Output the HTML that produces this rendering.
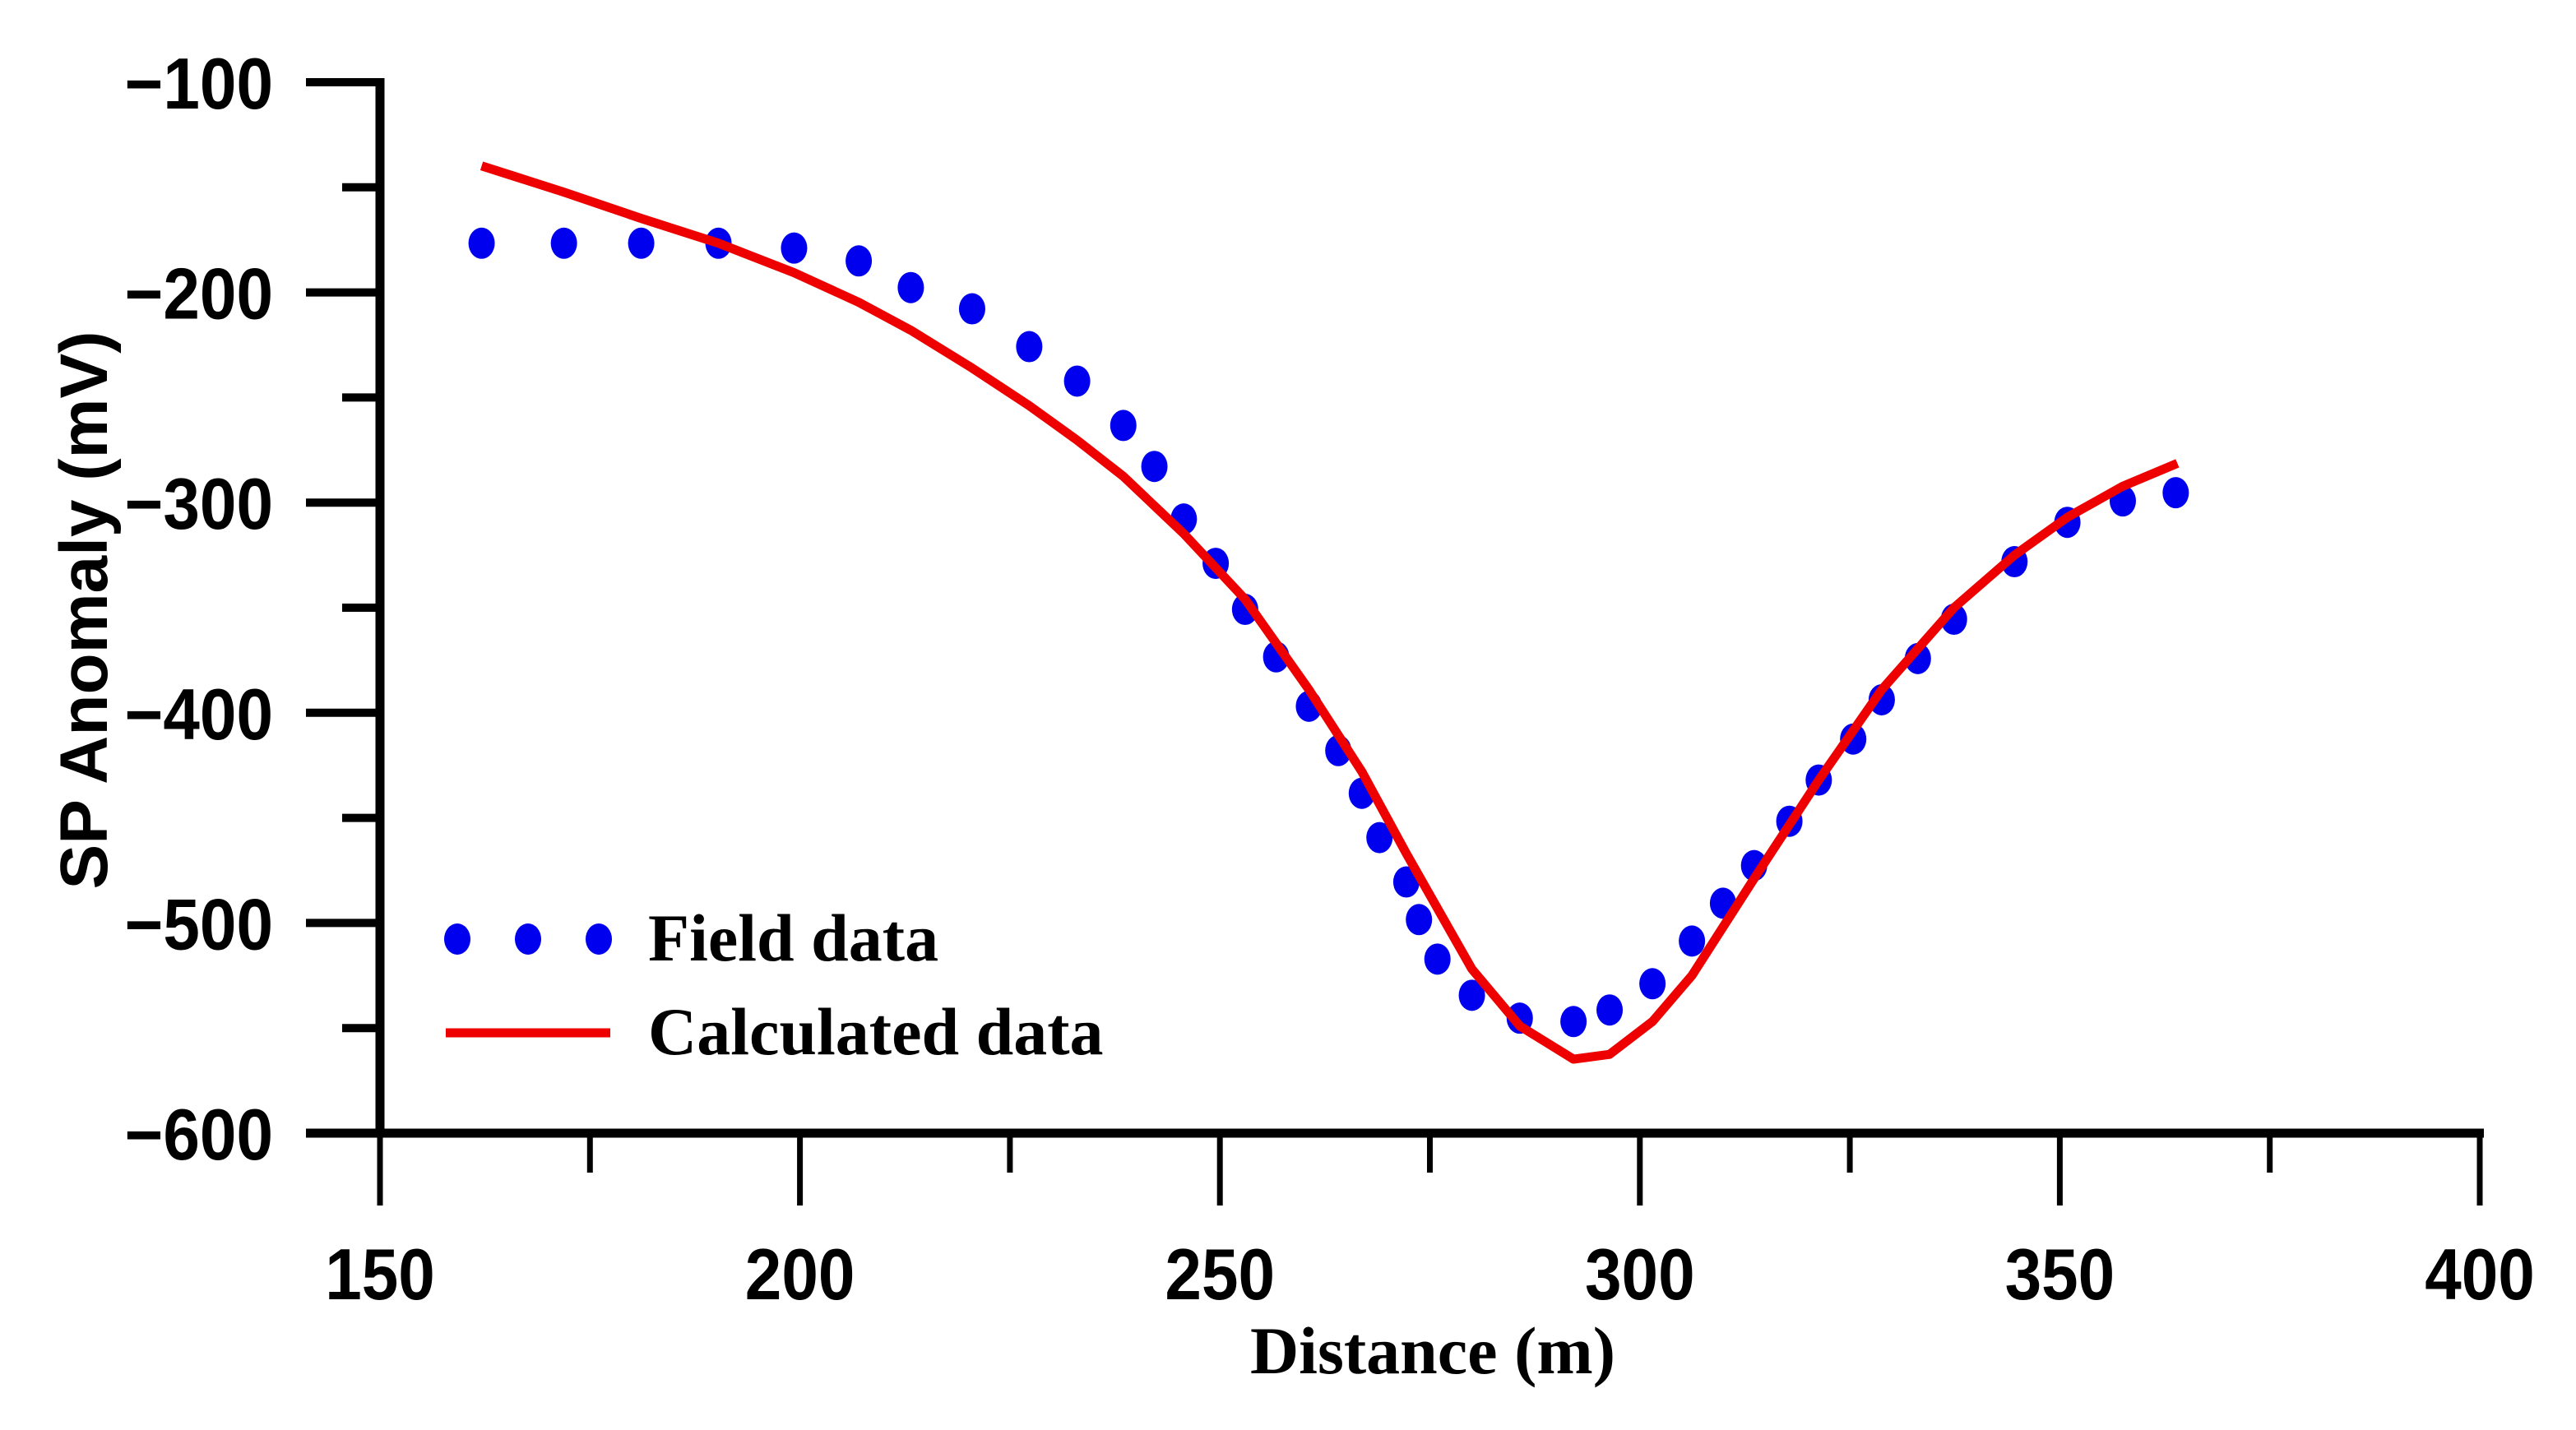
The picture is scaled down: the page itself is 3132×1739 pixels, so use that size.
<!DOCTYPE html>
<html><head><meta charset="utf-8"><style>
html,body{margin:0;padding:0;background:#fff;}
svg{display:block;}
</style></head><body>
<svg id="chart" width="3132" height="1739" viewBox="0 0 3132 1739" xmlns="http://www.w3.org/2000/svg">
<rect width="3132" height="1739" fill="#fff"/>
<g id="axes"></g>
<g id="series"></g>
<text x="1742" y="1670" text-anchor="middle" font-family="Liberation Serif, serif" font-weight="bold" font-size="82">Distance (m)</text>
<text transform="translate(130,742) rotate(-90)" text-anchor="middle" font-family="Liberation Sans, sans-serif" font-weight="bold" font-size="82">SP Anomaly (mV)</text>
<g>
  <ellipse cx="556" cy="1142" rx="16" ry="19" fill="#0000ee"/>
  <ellipse cx="642" cy="1142" rx="16" ry="19" fill="#0000ee"/>
  <ellipse cx="728" cy="1142" rx="16" ry="19" fill="#0000ee"/>
  <text x="788" y="1168" font-family="Liberation Serif, serif" font-weight="bold" font-size="82">Field data</text>
  <line x1="542" y1="1256" x2="742" y2="1256" stroke="#ee0000" stroke-width="11"/>
  <text x="788" y="1282" font-family="Liberation Serif, serif" font-weight="bold" font-size="82">Calculated data</text>
</g>
</svg>
<script>
const fieldX = [162.1,171.9,181.1,190.3,199.3,207.0,213.2,220.5,227.3,233.0,238.5,242.2,245.7,249.5,253.0,256.7,260.6,264.1,266.9,269.0,272.2,273.7,275.9,280.0,285.7,292.1,296.4,301.5,306.2,309.9,313.6,317.8,321.3,325.4,328.8,333.1,337.4,344.6,350.9,357.5,363.8];
const fieldY = [-176.6,-176.6,-176.6,-176.6,-178.9,-185,-197.7,-207.8,-225.8,-242.2,-263.3,-282.8,-307.8,-328.9,-350.8,-373.4,-396.9,-418,-438.3,-459.4,-480.5,-498.4,-517.2,-534.4,-545.3,-546.9,-541.4,-528.9,-508.6,-490.6,-472.7,-451.6,-432,-412.5,-393.8,-374.2,-355.5,-328.1,-309.4,-299.2,-295.3];
const calcX = [162.1,171.9,181.1,190.3,199.3,207,213.2,220.5,227.3,233,238.5,245.7,253,260.6,266.9,272.2,280,285.7,292.1,296.4,301.5,306.2,313.6,321.3,328.8,337.4,344.6,350.9,357.5,364];
const calcY = [-139.8,-152.3,-164.8,-176.6,-190.6,-204.7,-218,-236,-253.9,-270.3,-287.5,-314.8,-346,-389,-428,-467,-521.9,-549,-564.8,-562.5,-546.9,-525,-478.9,-432,-389,-350,-325,-307,-292.2,-281.3];
const xTicks = [150,200,250,300,350,400];
const xMinor = [175,225,275,325,375];
const yTicks = [-100,-200,-300,-400,-500,-600];
const yMinor = [-150,-250,-350,-450,-550];

const NS = 'http://www.w3.org/2000/svg';
const X0 = 462, X1 = 3015, Y0 = 1378, Y1 = 100;
function sx(v){ return X0 + (v - 150) / 250 * (X1 - X0); }
function sy(v){ return Y0 - (v + 600) / 500 * (Y0 - Y1); }
function mk(tag, attrs){ const e = document.createElementNS(NS, tag); for (const k in attrs) e.setAttribute(k, attrs[k]); return e; }
const axes = document.getElementById('axes');
const series = document.getElementById('series');

const yAxis = mk('line', {x1: X0, y1: Y1 - 5, x2: X0, y2: Y0 + 5, stroke: '#000', 'stroke-width': 11});


axes.appendChild(yAxis);
const xAxis = mk('line', {x1: X0 - 90, y1: Y0, x2: X1 + 5, y2: Y0, stroke: '#000', 'stroke-width': 11});


axes.appendChild(xAxis);

yTicks.forEach(v => {
  const t = mk('line', {x1: X0 - 90, y1: sy(v), x2: X0, y2: sy(v), stroke: '#000', 'stroke-width': 10});
  
  
  axes.appendChild(t);
  const l = mk('text', {x: 0, y: 0, 'text-anchor': 'end', 'font-family': 'Liberation Sans, sans-serif', 'font-weight': 'bold', 'font-size': 88, transform: 'translate(332,' + (sy(v) + 32) + ') scale(0.91,1)'});
  l.textContent = '\u2212' + Math.abs(v);
  
  
  axes.appendChild(l);
});
yMinor.forEach(v => {
  const t = mk('line', {x1: X0 - 46, y1: sy(v), x2: X0, y2: sy(v), stroke: '#000', 'stroke-width': 10});
  
  
  axes.appendChild(t);
});
xTicks.forEach(v => {
  const t = mk('line', {x1: sx(v), y1: Y0, x2: sx(v), y2: Y0 + 88, stroke: '#000', 'stroke-width': 7});
  
  
  axes.appendChild(t);
  const l = mk('text', {x: 0, y: 0, 'text-anchor': 'middle', 'font-family': 'Liberation Sans, sans-serif', 'font-weight': 'bold', 'font-size': 88, transform: 'translate(' + sx(v) + ',1580) scale(0.91,1)'});
  l.textContent = v;
  
  
  axes.appendChild(l);
});
xMinor.forEach(v => {
  const t = mk('line', {x1: sx(v), y1: Y0, x2: sx(v), y2: Y0 + 48, stroke: '#000', 'stroke-width': 7});
  
  
  axes.appendChild(t);
});

fieldX.forEach((v, i) => {
  const c = mk('ellipse', {cx: sx(v), cy: sy(fieldY[i]), rx: 16, ry: 19, fill: '#0000ee'});
  
  
  series.appendChild(c);
});
const pts = calcX.map((v, i) => sx(v) + ',' + sy(calcY[i])).join(' ');
const pl = mk('polyline', {points: pts, fill: 'none', stroke: '#ee0000', 'stroke-width': 11, 'stroke-linejoin': 'round'});


series.appendChild(pl);
</script>
</body></html>
